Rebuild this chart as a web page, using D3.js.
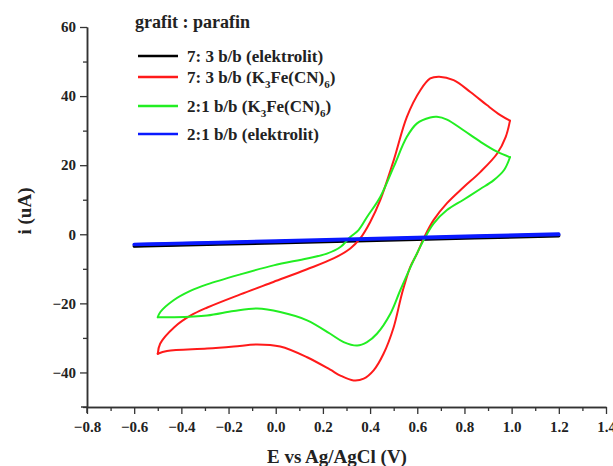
<!DOCTYPE html>
<html>
<head>
<meta charset="utf-8">
<script src="https://cdn.jsdelivr.net/npm/d3@7/dist/d3.min.js"></script>
<style>
body{margin:0;background:#fff;}
svg{display:block;}
text{font-family:"Liberation Serif","DejaVu Serif",serif;font-weight:bold;fill:#222;}
</style>
</head>
<body>
<svg id="chart" width="613" height="466"></svg>
<script>
// ---- data ----
const xTicks = [-0.8,-0.6,-0.4,-0.2,0.0,0.2,0.4,0.6,0.8,1.0,1.2,1.4];
const yTicks = [-40,-20,0,20,40,60];
const legendTitle = "grafit : parafin";
const seriesNames = ["7: 3 b/b (elektrolit)","7: 3 b/b (K3Fe(CN)6)","2:1 b/b (K3Fe(CN)6)","2:1 b/b (elektrolit)"];
const seriesColors = ["#000000","#ff1a1a","#22ee22","#0a1aff"];

const blackForward = [[-0.6,-3.3],[0.0,-2.2],[0.6,-1.2],[1.2,-0.3]];
const blackReverse = [[1.2,-0.5],[0.6,-1.5],[0.0,-2.5],[-0.6,-3.5]];

const redForward = [[-0.5,-34.6],[-0.49,-31.7],[-0.43,-26.9],[-0.36,-23.5],[-0.29,-21.2],[-0.15,-17.4],[-0.01,-13.8],[0.13,-10.2],[0.245,-7.0],[0.316,-4.1],[0.358,-1.2],[0.40,3.5],[0.443,9.9],[0.5,21.4],[0.556,34.0],[0.613,41.7],[0.655,45.1],[0.693,45.6],[0.754,44.6],[0.825,41.2],[0.895,37.4],[0.952,34.5],[0.993,32.9]];
const redReverse = [[0.993,32.9],[0.975,28.2],[0.938,23.3],[0.867,18.0],[0.796,13.6],[0.726,9.0],[0.669,4.1],[0.63,-0.8],[0.599,-5.6],[0.57,-9.5],[0.535,-17.2],[0.5,-26.9],[0.457,-34.6],[0.415,-39.4],[0.373,-41.8],[0.33,-42.3],[0.274,-40.9],[0.231,-39.2],[0.133,-35.6],[0.019,-32.5],[-0.079,-31.9],[-0.178,-32.5],[-0.291,-33.1],[-0.461,-33.8],[-0.5,-34.6]];

const greenForward = [[-0.5,-24.0],[-0.489,-22.5],[-0.433,-19.1],[-0.362,-16.4],[-0.291,-14.5],[-0.15,-11.6],[-0.009,-9.0],[0.133,-7.0],[0.217,-5.6],[0.274,-3.7],[0.316,-0.8],[0.351,1.2],[0.387,5.0],[0.443,10.8],[0.5,19.5],[0.556,28.2],[0.599,32.1],[0.655,33.8],[0.683,34.0],[0.726,33.2],[0.796,30.1],[0.867,26.8],[0.938,23.9],[0.993,22.3]];
const greenReverse = [[0.993,22.3],[0.968,18.6],[0.923,15.6],[0.867,13.1],[0.796,10.0],[0.726,7.0],[0.669,3.1],[0.627,-1.7],[0.585,-7.5],[0.528,-16.2],[0.486,-23.0],[0.429,-28.8],[0.387,-31.2],[0.345,-32.2],[0.288,-31.2],[0.231,-28.8],[0.133,-24.9],[0.019,-22.5],[-0.079,-21.5],[-0.178,-22.2],[-0.291,-23.5],[-0.433,-24.0],[-0.5,-24.0]];

const blueForward = [[-0.6,-2.9],[0.0,-1.9],[0.6,-0.9],[1.2,0.1]];
const blueReverse = [[1.2,-0.1],[0.6,-1.1],[0.0,-2.1],[-0.6,-3.0]];

// ---- chart ----
const svg = d3.select("#chart");
const x = d3.scaleLinear().domain([-0.8,1.4]).range([87,606]);
const y = d3.scaleLinear().domain([-50,60]).range([407,27]);
const axisColor = "#333";

const xMinor = d3.range(-0.7,1.41,0.2);
const yMinor = d3.range(-50,61,20);

const gx = svg.append("g").attr("transform","translate(0,407)")
  .call(d3.axisBottom(x).tickValues(xTicks).tickFormat(d3.format(".1f")).tickSize(7).tickSizeOuter(0));
const gxm = svg.append("g").attr("transform","translate(0,407)")
  .call(d3.axisBottom(x).tickValues(xMinor).tickFormat("").tickSize(4).tickSizeOuter(0));
const gy = svg.append("g").attr("transform","translate(87,0)")
  .call(d3.axisLeft(y).tickValues(yTicks).tickFormat(d3.format("d")).tickSize(7).tickSizeOuter(0));
const gym = svg.append("g").attr("transform","translate(87,0)")
  .call(d3.axisLeft(y).tickValues(yMinor).tickFormat("").tickSize(4).tickSizeOuter(0));

[gx,gxm,gy,gym].forEach(g=>{
  g.selectAll(".domain").attr("stroke",axisColor).attr("stroke-width",1.5);
  g.selectAll(".tick line").attr("stroke",axisColor).attr("stroke-width",1.3);
});
gx.selectAll(".tick text").attr("font-size",15).attr("y",25).attr("dy",0)
  .attr("font-family","Liberation Serif").attr("font-weight","bold").attr("fill","#222");
gy.selectAll(".tick text").attr("font-size",15).attr("x",-11)
  .attr("font-family","Liberation Serif").attr("font-weight","bold").attr("fill","#222");
svg.append("line").attr("x1",x(-0.8)).attr("x2",x(-0.8)).attr("y1",407).attr("y2",413).attr("stroke",axisColor).attr("stroke-width",1.5);
svg.append("line").attr("x1",81).attr("x2",87).attr("y1",407).attr("y2",407).attr("stroke",axisColor).attr("stroke-width",1.5);

// axis titles
svg.append("text").attr("x",337).attr("y",463).attr("text-anchor","middle").attr("font-size",19).text("E vs Ag/AgCl (V)");
svg.append("text").attr("transform","translate(31,211) rotate(-90)").attr("text-anchor","middle").attr("font-size",19).text("i (uA)");

// curves
const line = d3.line().x(d=>x(d[0])).y(d=>y(d[1])).curve(d3.curveCatmullRom.alpha(0.5));
const curves = [
  {data:[blackForward,blackReverse], color:seriesColors[0], w:3},
  {data:[redForward,redReverse], color:seriesColors[1], w:2},
  {data:[greenForward,greenReverse], color:seriesColors[2], w:2},
  {data:[blueForward,blueReverse], color:seriesColors[3], w:3.2}
];
curves.forEach(c=>{
  c.data.forEach(branch=>{
    svg.append("path").attr("d",line(branch)).attr("fill","none")
      .attr("stroke",c.color).attr("stroke-width",c.w).attr("stroke-linejoin","round").attr("stroke-linecap","round");
  });
});

// legend
svg.append("text").attr("x",135).attr("y",28).attr("font-size",18).text(legendTitle);
const legY = [56,77,106,134];
seriesNames.forEach((name,i)=>{
  svg.append("line").attr("x1",138).attr("x2",178).attr("y1",legY[i]).attr("y2",legY[i])
    .attr("stroke",seriesColors[i]).attr("stroke-width",2.4);
  const t = svg.append("text").attr("x",187).attr("y",legY[i]+6).attr("font-size",17);
  const m = name.match(/^(.*\(K)3(Fe\(CN\))6(\))$/);
  if(m){
    t.append("tspan").text(m[1]);
    t.append("tspan").attr("font-size",11).attr("dy",5).text("3");
    t.append("tspan").attr("dy",-5).text(m[2]);
    t.append("tspan").attr("font-size",11).attr("dy",5).text("6");
    t.append("tspan").attr("dy",-5).text(m[3]);
  } else {
    t.text(name);
  }
});
</script>
</body>
</html>
